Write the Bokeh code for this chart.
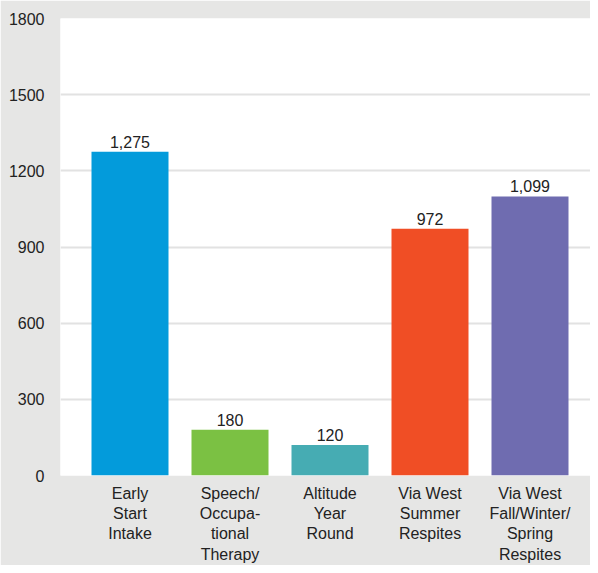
from bokeh.plotting import figure
from bokeh.models import ColumnDataSource, Range1d, FixedTicker, LabelSet
from bokeh.core.properties import value
from bokeh.embed import file_html
from bokeh.resources import INLINE

categories = ["Early Start Intake", "Speech/Occupational Therapy", "Altitude Year Round",
              "Via West Summer Respites", "Via West Fall/Winter/Spring Respites"]
tick_labels = ["Early\nStart\nIntake", "Speech/\nOccupa-\ntional\nTherapy", "Altitude\nYear\nRound",
               "Via West\nSummer\nRespites", "Via West\nFall/Winter/\nSpring\nRespites"]
values = [1275, 180, 120, 972, 1099]
value_labels = ["1,275", "180", "120", "972", "1,099"]
colors = ["#039bdb", "#7bc143", "#46acb3", "#f04e25", "#6f6cb0"]
y_ticks = [0, 300, 600, 900, 1200, 1500, 1800]

xpos = list(range(len(categories)))
source = ColumnDataSource(dict(x=xpos, cat=categories, val=values, lab=value_labels, color=colors))

BG = "#e6e6e5"
FONT = "Liberation Sans"

p = figure(
    x_range=Range1d(-0.695, 4.605),
    y_range=Range1d(0, 1800),
    width=590, height=565,
    output_backend="svg", toolbar_location=None,
    min_border_left=60, min_border_right=0, min_border_top=18, min_border_bottom=89,
)
p.border_fill_color = BG
p.background_fill_color = "white"
p.outline_line_color = None

p.vbar(x="x", top="val", width=0.77, color="color", line_color=None, source=source)

labels = LabelSet(x="x", y="val", text="lab", source=source, text_align="center",
                  text_baseline="bottom", y_offset=4, text_font_size="16px",
                  text_color="#222222", text_font=value(FONT))
p.add_layout(labels)

p.xgrid.grid_line_color = None
p.ygrid.grid_line_color = "#e2e2e2"
p.ygrid.grid_line_width = 2
p.yaxis.ticker = FixedTicker(ticks=y_ticks)
p.xaxis.ticker = FixedTicker(ticks=xpos)
p.xaxis.major_label_overrides = {i: t for i, t in zip(xpos, tick_labels)}

for ax in (p.xaxis[0], p.yaxis[0]):
    ax.axis_line_color = None
    ax.major_tick_line_color = None
    ax.minor_tick_line_color = None
    ax.major_tick_out = 0
    ax.major_tick_in = 0
    ax.major_label_text_font = FONT
    ax.major_label_text_font_size = "16px"
    ax.major_label_text_color = "#222222"

p.yaxis.major_label_standoff = 16
p.xaxis.major_label_standoff = 9
p.xaxis.major_label_text_line_height = 1.2

open("out.html", "w").write(file_html(p, INLINE))
